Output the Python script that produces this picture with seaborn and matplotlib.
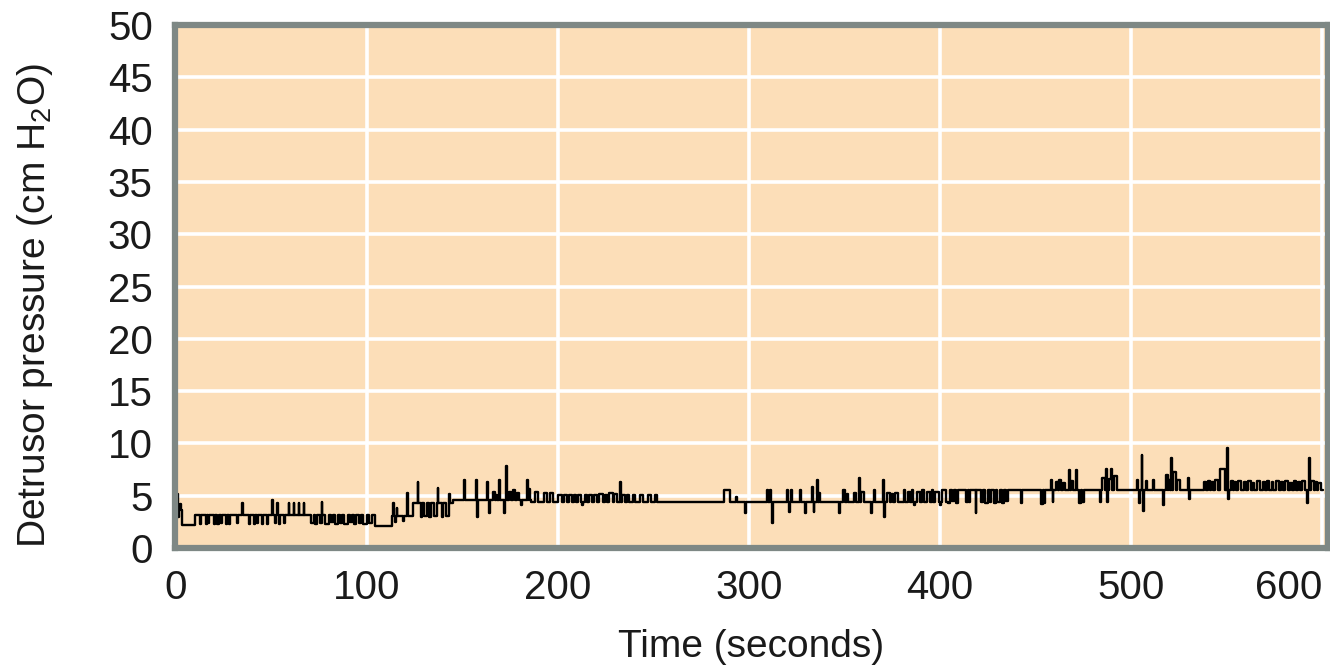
import numpy as np
import pandas as pd
import matplotlib
matplotlib.use("Agg")
import matplotlib.pyplot as plt
import seaborn as sns

# baseline level of the trace: step start times (s) and levels (cm H2O)
base_t = [0, 1.5, 3, 10, 104, 113, 117, 124, 145, 186, 404]
base_v = [4.8, 3.6, 2.2, 3.2, 2.1, 3.1, 3.1, 4.3, 4.6, 4.4, 5.5]
t_end = 600.5

# excursions away from the baseline: start time, duration, value
ev_start = [
    0.5, 1.2, 2.0,
    12.5, 15.6, 17.0, 19.9, 21.7, 23.4, 26.0, 27.7, 32.0, 38.0, 40.8, 42.5, 45.0, 47.7, 52.0, 53.8, 56.4,
    70.5, 73.0, 75.5, 78.0, 81.0, 83.5, 86.0, 88.0, 91.0, 93.0, 96.0, 98.0, 101.0,
    34.7, 50.3, 52.9, 59.0, 61.6, 64.2, 66.8, 76.3,
    113.5, 114.5, 115.5, 119.0, 121.0,
    126.5, 128.0, 130.0, 132.5, 135.0, 137.0, 139.0, 141.5, 143.0,
    151.0, 157.0, 157.8, 163.0, 163.8, 166.0, 167.5, 169.0, 171.7, 173.0, 174.5, 176.5, 178.5,
    180.5, 183.7, 184.5,
    188.0, 192.5, 196.0, 200.0, 203.0, 205.5, 208.5, 210.5, 212.5, 214.0, 216.0, 219.0, 221.5,
    224.5, 226.5, 229.5, 232.4, 233.5, 236.0, 239.0, 243.0, 247.0, 250.5,
    287.0, 293.0, 298.0,
    309.5, 311.0, 312.0, 320.0, 320.8, 322.0, 326.6, 329.5, 333.0, 333.8, 335.7, 336.5,
    347.0, 349.0, 351.0, 355.0, 357.7, 358.5, 364.0, 365.5, 370.0, 370.8, 372.0, 374.5, 376.5,
    381.0, 383.0, 385.0, 386.5, 388.0, 390.5, 393.0, 395.5, 397.5, 400.0, 401.0,
    404.0, 406.0, 408.5, 413.6, 415.0, 418.5, 421.5, 423.5, 426.0, 428.0, 430.0, 432.5, 434.5,
    442.3, 452.7, 454.3, 458.0, 458.8, 460.6, 462.0, 464.5, 467.5, 468.5, 471.0, 472.7, 474.5,
    483.6, 484.5, 486.8, 487.5, 488.5, 489.5, 491.0,
    503.0, 504.0, 505.5, 506.2, 507.5, 511.6, 516.7, 518.0, 519.5, 521.0, 522.0, 524.0, 529.8,
    530.5, 538.0, 540.0, 542.0, 544.0, 546.6, 550.0, 550.8,
    552.0, 554.0, 556.0, 559.0, 561.0, 563.5, 566.0, 569.0, 571.0, 573.5, 576.0, 578.5, 580.5,
    583.0, 585.0, 587.5, 589.5, 592.0, 593.0, 594.0, 596.0, 598.0,
]
ev_dur = [
    0.4, 0.3, 0.4,
    0.6, 0.6, 0.5, 0.6, 0.6, 0.6, 0.6, 0.6, 0.6, 0.6, 0.6, 0.6, 0.6, 0.6, 0.6, 0.6, 0.6,
    1.5, 1.0, 1.2, 2.0, 1.0, 1.5, 1.0, 2.0, 1.0, 1.5, 1.0, 2.0, 1.5,
    0.4, 0.4, 0.4, 0.4, 0.4, 0.4, 0.4, 0.4,
    0.5, 0.8, 0.4, 0.5, 0.3,
    0.4, 1.0, 1.5, 1.0, 1.5, 0.4, 1.0, 1.5, 0.5,
    0.4, 0.4, 0.4, 0.4, 0.4, 1.0, 0.6, 0.4, 0.4, 0.4, 1.0, 0.8, 1.0,
    0.5, 0.4, 1.0,
    1.5, 1.5, 1.5, 2.0, 1.5, 2.0, 1.0, 1.5, 0.4, 1.0, 2.0, 1.5, 2.0,
    1.0, 2.0, 1.5, 0.4, 1.5, 1.0, 1.5, 1.5, 1.5, 1.5,
    3.0, 0.8, 0.4,
    0.5, 0.4, 0.4, 0.4, 0.4, 0.4, 0.5, 0.4, 0.4, 0.4, 0.4, 0.5,
    0.4, 1.0, 0.8, 1.0, 0.4, 1.5, 0.4, 0.4, 0.4, 0.4, 1.5, 0.8, 1.5,
    0.5, 1.0, 0.8, 0.4, 1.5, 1.0, 1.5, 1.0, 2.0, 0.6, 2.0,
    1.0, 1.5, 0.8, 1.0, 0.8, 0.4, 1.0, 1.5, 0.8, 1.0, 1.5, 0.8, 1.0,
    0.4, 1.0, 0.8, 0.4, 0.4, 1.0, 1.5, 1.0, 0.4, 1.0, 0.4, 1.0, 1.0,
    0.4, 2.0, 0.4, 0.6, 1.0, 0.4, 1.5,
    0.5, 0.5, 0.4, 0.4, 1.0, 0.4, 0.4, 1.0, 1.0, 0.4, 1.5, 1.5, 0.4,
    0.4, 1.0, 1.2, 0.8, 1.5, 2.5, 0.4, 0.4,
    1.2, 1.0, 1.5, 1.0, 1.5, 1.0, 1.5, 1.0, 1.2, 0.8, 1.5, 1.0, 1.5,
    1.0, 1.5, 1.0, 1.5, 0.6, 0.4, 1.5, 1.0, 1.5,
]
ev_val = [
    5.2, 3.0, 4.2,
    2.3, 2.3, 2.4, 2.3, 2.3, 2.4, 2.3, 2.3, 2.4, 2.3, 2.3, 2.4, 2.3, 2.3, 2.4, 2.3, 2.4,
    2.4, 2.3, 2.4, 2.3, 2.5, 2.3, 2.4, 2.3, 2.5, 2.3, 2.4, 2.3, 2.4,
    4.3, 4.6, 4.3, 4.3, 4.3, 4.3, 4.3, 4.4,
    4.3, 2.5, 3.8, 2.6, 5.3,
    6.3, 3.0, 3.1, 3.0, 3.1, 5.7, 3.0, 3.1, 5.2,
    6.5, 6.5, 3.0, 6.3, 3.3, 5.4, 5.1, 6.5, 3.3, 7.8, 5.4, 5.5, 5.3,
    4.1, 6.5, 5.6,
    5.4, 5.3, 5.3, 5.1, 5.1, 5.1, 5.1, 5.1, 4.1, 5.1, 5.1, 5.1, 5.2,
    5.1, 5.3, 5.2, 6.3, 5.1, 5.1, 5.1, 5.1, 5.1, 5.1,
    5.5, 4.9, 3.3,
    5.5, 5.5, 2.4, 5.5, 3.4, 5.5, 5.5, 3.3, 5.8, 3.4, 6.5, 5.3,
    3.3, 5.5, 5.2, 5.3, 6.7, 5.4, 3.3, 5.5, 6.5, 3.0, 5.3, 5.2, 5.3,
    5.5, 5.4, 5.5, 4.1, 5.4, 5.5, 5.4, 5.5, 5.4, 4.1, 5.5,
    4.3, 4.5, 4.3, 4.4, 4.4, 3.3, 4.4, 4.3, 4.4, 4.3, 4.4, 4.3, 4.5,
    4.3, 4.2, 4.3, 6.5, 4.4, 6.3, 6.5, 6.2, 7.5, 6.4, 7.5, 4.3, 4.4,
    4.4, 6.7, 7.6, 4.4, 6.6, 7.6, 6.9,
    6.5, 4.3, 8.9, 3.5, 6.4, 6.5, 4.1, 7.0, 6.5, 8.6, 7.3, 6.5, 6.7,
    4.7, 6.3, 6.4, 6.3, 6.5, 7.6, 9.6, 4.7,
    6.4, 6.3, 6.4, 6.3, 6.4, 6.2, 6.4, 6.3, 6.4, 6.3, 6.4, 6.3, 6.4,
    6.2, 6.4, 6.3, 6.4, 4.3, 8.6, 6.4, 6.3, 6.2,
]

x_ticks = [0, 100, 200, 300, 400, 500, 600]
y_ticks = [0, 5, 10, 15, 20, 25, 30, 35, 40, 45, 50]

# build the step trace
ev = pd.DataFrame({"start": ev_start, "end": np.add(ev_start, ev_dur), "val": ev_val})
times = np.unique(np.concatenate([base_t, ev["start"], ev["end"], [t_end]]))
times = times[times <= t_end]
bt = np.array(base_t)
bv = np.array(base_v)
vals = []
for t in times:
    v = bv[np.searchsorted(bt, t, side="right") - 1]
    hit = ev[(ev["start"] <= t) & (ev["end"] > t)]
    if len(hit):
        v = hit["val"].iloc[-1]
    vals.append(v)
trace = pd.DataFrame({"time": times, "pressure": vals})

bg = "#fcdeb8"
edge = "#7e8885"
ink = "#1a1a1a"
sns.set_style("whitegrid", {
    "axes.facecolor": bg,
    "grid.color": "white",
    "axes.edgecolor": edge,
})
plt.rcParams["font.family"] = ["Liberation Sans", "DejaVu Sans"]
plt.rcParams["mathtext.fontset"] = "custom"
plt.rcParams["mathtext.rm"] = "Liberation Sans"
plt.rcParams["mathtext.it"] = "Liberation Sans"

fig = plt.figure(figsize=(13.3, 6.68), dpi=100)
ax = fig.add_axes([175 / 1330, 120 / 668, 1153 / 1330, 523 / 668])

sns.lineplot(data=trace, x="time", y="pressure", ax=ax, color="black",
             linewidth=1.7, drawstyle="steps-post", estimator=None, sort=False)

ax.set_xlim(-0.5, 603)
ax.set_ylim(0, 50)
ax.set_xticks(x_ticks)
ax.set_yticks(y_ticks)
ax.grid(True, color="white", linewidth=2.6)
for s in ax.spines.values():
    s.set_color(edge)
    s.set_linewidth(4.5)
    s.set_visible(True)
ax.tick_params(axis="both", which="major", direction="out", length=11, width=3.2,
               color=edge, labelsize=29, labelcolor=ink, pad=5)
ax.tick_params(axis="x", pad=4)
# last x label sits left of its tick, as in the original
ax.get_xticklabels()[-1].set_horizontalalignment("right")
ax.get_xticklabels()[-1].set_x(603)

ax.set_xlabel("Time (seconds)", fontsize=28, color=ink, labelpad=16)
ax.set_ylabel("Detrusor pressure (cm H$_2$O)", fontsize=28, color=ink)
ax.yaxis.set_label_coords(-0.104, 0.463)

fig.savefig("out.png", dpi=100, facecolor="white")
